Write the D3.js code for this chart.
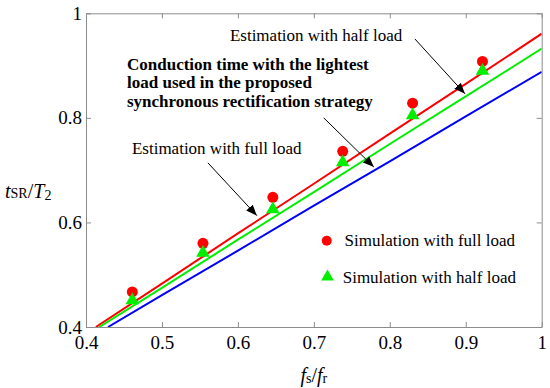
<!DOCTYPE html>
<html>
<head>
<meta charset="utf-8">
<script src="https://cdn.jsdelivr.net/npm/d3@7"></script>
<style>
  body { margin: 0; background: #fff; }
</style>
</head>
<body>
<div id="chart"></div>
<script>
// Estimated curves
const estFullX = [0.413, 0.5, 0.6, 0.7, 0.8, 0.9, 1.0]
const estFullY = [0.400, 0.483, 0.579, 0.674, 0.770, 0.865, 0.961]
const estHalfX = [0.4175, 0.5, 0.6, 0.7, 0.8, 0.9, 1.0]
const estHalfY = [0.400, 0.475, 0.567, 0.658, 0.750, 0.841, 0.9325]
const estLightX = [0.429, 0.5, 0.6, 0.7, 0.8, 0.9, 1.0]
const estLightY = [0.400, 0.461, 0.546, 0.632, 0.717, 0.803, 0.888]

// Simulation points
const simX = [0.461, 0.554, 0.646, 0.738, 0.830, 0.922]
const simFullY = [0.467, 0.560, 0.648, 0.736, 0.828, 0.908]
const simHalfY = [0.451, 0.542, 0.625, 0.715, 0.805, 0.890]

const xTicks = [0.4, 0.5, 0.6, 0.7, 0.8, 0.9, 1]
const yTicks = [0.4, 0.6, 0.8, 1]

const W = 550, H = 388
const margin = { top: 13.3, right: 8.3, bottom: 61, left: 86 }
const iw = W - margin.left - margin.right
const ih = H - margin.top - margin.bottom
const FONT = "'Liberation Serif', 'DejaVu Serif', serif"

const colors = { full: "#ff0000", half: "#00ee00", light: "#0000ff", axis: "#8c8c8c" }

const svg = d3.select("#chart").append("svg").attr("width", W).attr("height", H)
  .attr("font-family", FONT)
const g = svg.append("g").attr("transform", `translate(${margin.left},${margin.top})`)

const x = d3.scaleLinear().domain([0.4, 1]).range([0, iw])
const y = d3.scaleLinear().domain([0.4, 1]).range([ih, 0])

// clip
svg.append("defs").append("clipPath").attr("id", "clip")
  .append("rect").attr("width", iw).attr("height", ih)

svg.select("defs").append("marker")
  .attr("id", "arrow").attr("viewBox", "0 0 10 10")
  .attr("refX", 10).attr("refY", 5)
  .attr("markerWidth", 11).attr("markerHeight", 11)
  .attr("markerUnits", "userSpaceOnUse")
  .attr("orient", "auto")
  .append("path").attr("d", "M0,1 L10,5 L0,9 Z").attr("fill", "#000")

// axes
function styleAxis(sel) {
  sel.attr("font-family", FONT).attr("font-size", 19)
  sel.select(".domain").attr("stroke", colors.axis)
  sel.selectAll(".tick line").attr("stroke", colors.axis)
  sel.selectAll(".tick text").attr("fill", "#000")
}
const fmt = d => d === 1 ? "1" : d3.format(".1f")(d)

g.append("g").attr("transform", `translate(0,${ih})`)
  .call(d3.axisBottom(x).tickValues(xTicks).tickFormat(fmt).tickSizeInner(-5).tickSizeOuter(0).tickPadding(9))
  .call(styleAxis)
g.append("g")
  .call(d3.axisLeft(y).tickValues(yTicks).tickFormat(fmt).tickSizeInner(-5).tickSizeOuter(0).tickPadding(4))
  .call(styleAxis)
g.append("g")
  .call(d3.axisTop(x).tickValues(xTicks).tickFormat("").tickSizeInner(-5).tickSizeOuter(0))
  .call(styleAxis)
g.append("g").attr("transform", `translate(${iw},0)`)
  .call(d3.axisRight(y).tickValues(yTicks).tickFormat("").tickSizeInner(-5).tickSizeOuter(0))
  .call(styleAxis)

// lines
const line = d3.line().x(d => x(d[0])).y(d => y(d[1]))
const series = [
  { xs: estFullX, ys: estFullY, c: colors.full },
  { xs: estHalfX, ys: estHalfY, c: colors.half },
  { xs: estLightX, ys: estLightY, c: colors.light }
]
const plot = g.append("g").attr("clip-path", "url(#clip)")
series.forEach(s => {
  plot.append("path")
    .attr("d", line(s.xs.map((v, i) => [v, s.ys[i]])))
    .attr("fill", "none").attr("stroke", s.c).attr("stroke-width", 2)
})

// simulation markers
const tri = d3.symbol().type(d3.symbolTriangle).size(80)
g.selectAll(".simfull").data(simX).join("circle")
  .attr("cx", d => x(d)).attr("cy", (d, i) => y(simFullY[i])).attr("r", 5.5)
  .attr("fill", colors.full)
g.selectAll(".simhalf").data(simX).join("path")
  .attr("d", tri)
  .attr("transform", (d, i) => `translate(${x(d)},${y(simHalfY[i])})`)
  .attr("fill", colors.half)

// annotations (data coordinates)
const arrows = [
  [0.833, 0.951, 0.899, 0.846],
  [0.713, 0.800, 0.779, 0.706],
  [0.5605, 0.714, 0.625, 0.613]
]
arrows.forEach(a => {
  g.append("line")
    .attr("x1", x(a[0])).attr("y1", y(a[1]))
    .attr("x2", x(a[2])).attr("y2", y(a[3]))
    .attr("stroke", "#000").attr("stroke-width", 1)
    .attr("marker-end", "url(#arrow)")
})

g.append("text").attr("x", x(0.5895)).attr("y", y(0.947))
  .attr("font-size", 17).text("Estimation with half load")
g.append("text").attr("x", x(0.4605)).attr("y", y(0.731))
  .attr("font-size", 17).text("Estimation with full load")

const boldLines = [
  "Conduction time with the lightest",
  "load used in the proposed",
  "synchronous rectification strategy"
]
const boldY = [0.892, 0.857, 0.821]
boldLines.forEach((t, i) => {
  g.append("text").attr("x", x(0.454)).attr("y", y(boldY[i]))
    .attr("font-size", 17).attr("font-weight", "bold").text(t)
})

// legend
g.append("circle").attr("cx", x(0.717)).attr("cy", y(0.565)).attr("r", 5)
  .attr("fill", colors.full)
g.append("text").attr("x", x(0.7405)).attr("y", y(0.555))
  .attr("font-size", 17).text("Simulation with full load")
g.append("path").attr("d", d3.symbol().type(d3.symbolTriangle).size(70))
  .attr("transform", `translate(${x(0.718)},${y(0.496)})`).attr("fill", colors.half)
g.append("text").attr("x", x(0.738)).attr("y", y(0.485))
  .attr("font-size", 17).text("Simulation with half load")

// axis labels
const yl = svg.append("text").attr("x", 5).attr("y", 198).attr("font-size", 20)
yl.append("tspan").attr("font-style", "italic").text("t")
yl.append("tspan").attr("font-size", 14).text("SR")
yl.append("tspan").text("/")
yl.append("tspan").attr("font-style", "italic").text("T")
yl.append("tspan").attr("font-size", 14).attr("dy", 2).text("2")

const xl = svg.append("text").attr("x", margin.left + x(0.7)).attr("y", 382)
  .attr("text-anchor", "middle").attr("font-size", 20)
xl.append("tspan").attr("font-style", "italic").text("f")
xl.append("tspan").attr("font-size", 14).attr("dy", 1).text("s")
xl.append("tspan").attr("dy", -1).text("/")
xl.append("tspan").attr("font-style", "italic").text("f")
xl.append("tspan").attr("font-size", 14).attr("dy", 1).text("r")
</script>
</body>
</html>
